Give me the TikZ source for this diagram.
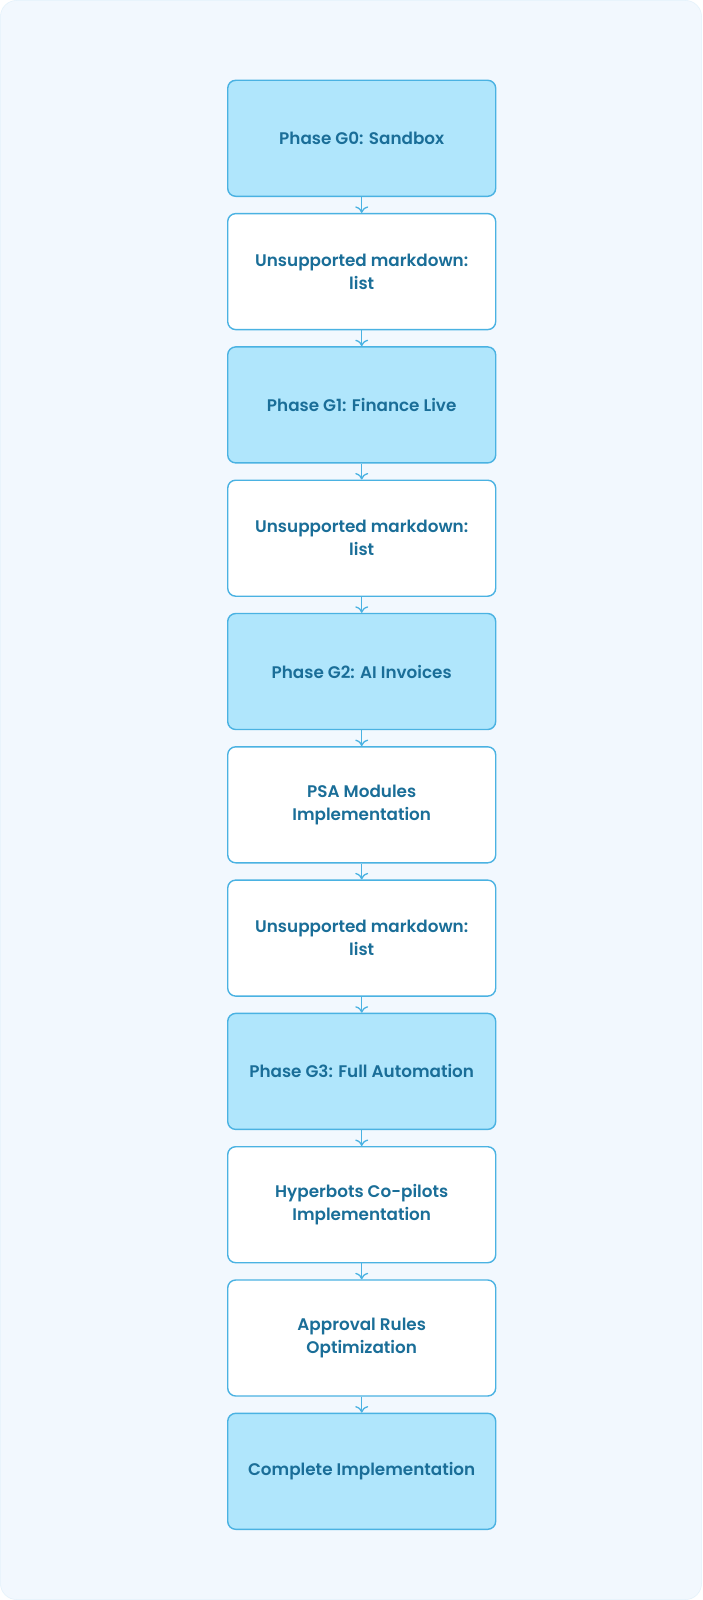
\documentclass[tikz,border=0pt]{standalone}
\usepackage{fontspec}
\setmainfont{Poppins}[UprightFont=* SemiBold, BoldFont=* Bold]
\usetikzlibrary{arrows.meta}
\definecolor{bgc}{HTML}{F2F8FE}
\definecolor{phasefill}{HTML}{B0E6FC}
\definecolor{edgec}{HTML}{4AB2E2}
\definecolor{txtc}{HTML}{1A6E98}
\tikzset{
  x=1pt,y=-1pt,
  box/.style={draw=edgec, line width=1.4pt, rounded corners=8pt, minimum width=268pt, minimum height=116pt, text=txtc, align=center, font=\fontsize{16.8}{23}\selectfont, inner sep=0pt},
  phase/.style={box, fill=phasefill},
  task/.style={box, fill=white},
  conn/.style={draw=edgec, line width=1.3pt, -{To[length=6.5pt,width=13pt,line width=1.3pt]}},
}
\begin{document}
\begin{tikzpicture}
\useasboundingbox (0,0) rectangle (702,1600);
\fill[white] (0,0) rectangle (702,1600);
\fill[bgc, draw=bgc!90!edgec, line width=0.5pt, rounded corners=16pt] (0.5,0.5) rectangle (701.5,1599.5);
\node[phase] (n0) at (361.7,138.3) {Phase G0: Sandbox};
\node[task]  (n1) at (361.7,271.6) {Unsupported markdown:\\list};
\node[phase] (n2) at (361.7,404.9) {Phase G1: Finance Live};
\node[task]  (n3) at (361.7,538.2) {Unsupported markdown:\\list};
\node[phase] (n4) at (361.7,671.5) {Phase G2: AI Invoices};
\node[task]  (n5) at (361.7,804.8) {PSA Modules\\Implementation};
\node[task]  (n6) at (361.7,938.1) {Unsupported markdown:\\list};
\node[phase] (n7) at (361.7,1071.4) {Phase G3: Full Automation};
\node[task]  (n8) at (361.7,1204.7) {Hyperbots Co-pilots\\Implementation};
\node[task]  (n9) at (361.7,1338.0) {Approval Rules\\Optimization};
\node[phase] (n10) at (361.7,1471.3) {Complete Implementation};
\foreach \a/\b in {n0/n1,n1/n2,n2/n3,n3/n4,n4/n5,n5/n6,n6/n7,n7/n8,n8/n9,n9/n10}
  \draw[conn] (\a.south) -- (\b.north);
\end{tikzpicture}
\end{document}
